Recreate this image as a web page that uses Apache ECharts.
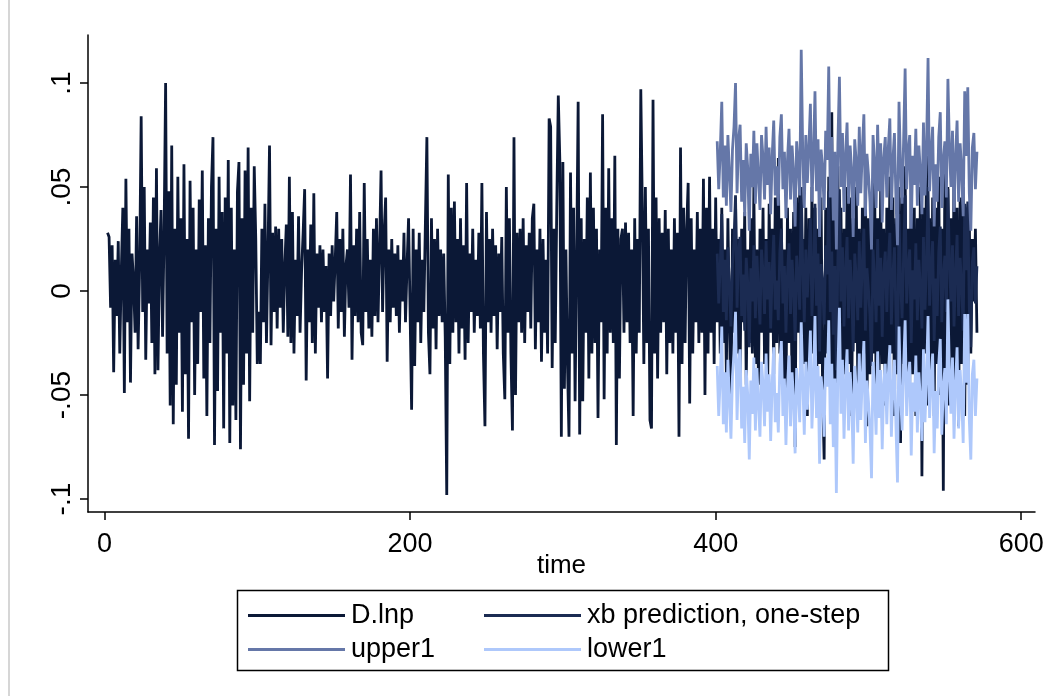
<!DOCTYPE html>
<html>
<head>
<meta charset="utf-8">
<script src="https://cdn.jsdelivr.net/npm/echarts@6/dist/echarts.min.js"></script>
<style>html,body{margin:0;padding:0;background:#fff}#c{width:1053px;height:696px}</style>
</head>
<body>
<div id="c"></div>
<script>
// ---- data ----
const dlnpStart = 2;   // first time index of D.lnp
const dlnp = [
.028,.026,-.008,.022,-.039,.015,-.012,.024,-.030,.010,
.040,-.049,.054,-.015,.030,-.044,.018,.005,-.020,.036,
-.028,.012,.084,-.010,.050,-.033,.020,-.006,.033,-.025,
.045,-.040,.059,-.038,.016,.039,-.022,.028,.100,-.030,
.048,-.055,.070,-.064,.030,-.045,.055,-.020,.035,-.058,
.061,-.040,.025,-.071,.053,-.015,.040,-.050,.020,-.035,
.044,-.010,.058,-.042,.022,-.060,.035,-.025,.050,.074,
-.074,.030,-.048,.055,-.020,.038,-.066,.045,-.030,.063,
-.073,.040,-.055,.020,-.062,.048,.062,-.076,.035,-.045,
.058,-.030,.069,-.053,.040,-.020,.060,.025,-.035,-.010,
-.035,.030,-.015,.042,-.025,.018,.070,-.026,.028,-.010,
.031,-.018,.030,-.008,.025,-.020,.012,.032,-.022,.055,
-.025,.038,-.030,.015,-.012,.036,-.020,.010,.028,.049,
-.043,.020,-.015,.032,-.025,.047,-.030,.018,-.008,.022,
-.015,.020,-.010,.012,-.042,.018,-.012,.022,-.005,.015,
.038,-.018,.025,-.010,.030,-.022,.012,.020,-.008,.056,
-.033,.022,-.012,.030,-.015,.038,-.020,-.026,.052,-.010,
.025,-.018,.015,-.022,.030,-.012,.035,-.015,.020,.058,
-.010,.028,.045,-.034,.020,-.015,.025,-.008,.018,-.012,
.022,-.020,.015,-.005,.028,-.015,.012,.035,-.010,-.057,
.030,-.036,.020,-.015,.028,-.025,.015,-.010,.032,.074,
-.020,-.040,.035,-.018,.025,-.028,.030,-.012,.020,-.015,
.018,-.022,-.098,.056,-.035,.040,-.020,.043,-.015,.025,
-.030,.035,-.018,.022,-.033,.052,-.025,.018,-.010,.030,
-.020,.015,-.012,.028,-.018,.052,-.030,-.065,.038,-.015,
.025,-.020,.030,-.012,.022,-.028,.018,-.010,.026,-.030,
-.052,.050,-.020,.035,-.030,-.067,.074,-.050,.028,-.015,
.030,-.020,.035,-.025,.022,-.010,.028,-.018,.035,.042,
-.028,.020,-.015,.030,-.034,.025,-.020,.015,-.030,.083,
.079,-.037,.030,-.025,.040,.094,.063,-.070,.062,-.047,
.020,-.035,-.070,.057,-.030,.040,-.053,.015,.091,-.069,
.035,-.053,.025,-.020,.045,-.042,.057,-.030,.040,-.025,
.030,-.061,.020,-.015,.085,-.052,.040,-.030,.059,-.020,
.035,-.025,.065,-.074,.030,-.042,.025,.030,-.020,.033,
-.015,.028,-.025,.020,-.060,.035,-.030,.025,-.020,.097,
.040,-.035,.050,-.025,.030,-.062,-.066,.092,-.030,.045,
-.042,.035,-.020,.028,-.015,.039,-.040,.030,-.025,.020,
-.030,.035,-.020,.028,-.070,.069,-.035,.040,-.025,.030,
.052,-.054,.035,-.030,.020,-.015,.038,-.025,.030,-.020,
.054,-.050,.040,-.030,.055,-.020,.030,-.035,.045,-.015,
.025,-.030,.040,-.025,.020,-.040,.035,-.015,-.059,.030,
-.020,.045,-.030,.025,-.040,.030,-.015,.038,-.045,.020,
-.025,.035,-.030,.050,-.035,.020,-.045,.030,-.020,.040,
-.035,.025,-.050,.042,-.020,.030,-.040,.045,-.025,.064,
-.030,.035,-.045,.020,-.055,.040,-.025,.030,-.050,.038,
-.075,.045,-.020,.050,-.040,.025,-.035,.040,-.060,.035,
-.045,.050,-.030,.040,-.055,.030,-.035,.045,-.050,-.081,
.040,-.030,.055,-.040,.086,-.050,.035,-.045,.060,-.030,
.040,-.055,.030,-.040,.050,-.035,.045,-.060,.035,-.025,
.050,-.045,.030,-.050,.040,-.030,.055,-.065,.035,-.040,
.045,-.030,.060,-.050,.035,-.040,.050,-.035,.030,-.055,
.040,-.045,.055,-.030,.045,-.060,.035,-.040,.050,-.073,
.045,-.035,.060,-.050,.030,-.045,.055,-.040,.040,-.060,
.035,-.045,.050,-.089,.040,-.030,.065,-.055,.035,-.050,
.045,-.060,.040,-.035,.055,-.050,.030,-.096,.060,-.045,
.050,-.055,.035,-.040,.060,-.050,.040,-.065,.045,-.035,
.050,-.060,.040,-.045,.035,-.030,.025,-.005,.030,-.020
];
const fcStart = 401;   // first time index of the forecast series
const xb = [
.018,-.006,.012,.037,-.010,.015,-.014,.021,.002,-.017,
.013,.024,.046,-.008,.019,.026,-.012,.008,-.019,.016,
.004,-.027,.011,-.005,.022,-.013,.017,.000,-.016,.020,
.009,-.011,.024,-.004,.014,-.018,.010,.027,-.009,.005,
-.014,.019,.030,-.006,.012,-.020,.008,.023,-.011,.015,
.002,-.024,.017,.006,-.009,.050,.011,-.015,.020,-.003,
.014,.035,-.012,.009,.042,-.007,.018,-.029,.013,.004,
-.016,.022,.008,.048,-.010,.019,-.021,.012,-.038,.016,
.049,-.005,.021,-.017,.010,.026,-.013,.015,.003,-.029,
.018,.007,-.014,.024,-.008,.013,.030,-.019,.011,.001,
-.012,-.036,.020,.006,-.015,.025,-.007,.016,-.022,.009,
.019,-.010,.014,.028,-.016,.008,.021,-.011,-.038,.037,
.005,-.013,.017,.046,-.006,.012,.020,-.025,.010,-.004,
.023,-.014,.015,.002,-.018,.026,-.009,.013,.050,-.007,
.011,.024,-.024,.006,-.012,.019,.031,-.015,.008,.017,
-.010,.049,.014,-.005,.022,-.017,.009,.027,-.012,.016,
.003,-.019,.042,.010,.043,-.008,-.027,.014,.021,-.006,
.012
];
const upper1 = [
.072,.049,.067,.091,.045,.070,.041,.075,.057,.038,
.068,.079,.100,.047,.073,.080,.043,.063,.036,.071,
.059,.029,.066,.050,.077,.042,.071,.055,.039,.075,
.064,.044,.079,.051,.069,.037,.065,.082,.046,.060,
.041,.074,.085,.049,.067,.035,.063,.078,.044,.070,
.057,.031,.072,.061,.046,.116,.066,.040,.075,.052,
.069,.090,.043,.064,.096,.048,.073,.026,.068,.059,
.039,.077,.063,.108,.045,.074,.034,.067,.020,.071,
.103,.050,.076,.038,.065,.081,.042,.070,.058,.026,
.073,.062,.041,.079,.047,.068,.085,.036,.066,.056,
.043,.020,.075,.061,.040,.080,.048,.071,.033,.064,
.074,.045,.069,.083,.039,.063,.076,.044,.022,.091,
.060,.042,.072,.107,.049,.067,.075,.030,.065,.051,
.078,.041,.070,.057,.037,.081,.046,.068,.112,.048,
.066,.079,.031,.061,.043,.074,.086,.040,.063,.072,
.045,.102,.069,.050,.077,.038,.064,.082,.043,.071,
.058,.036,.096,.065,.098,.047,.029,.069,.076,.049,
.067
];
const lower1 = [
-.036,-.060,-.042,-.017,-.064,-.039,-.068,-.033,-.052,-.071,
-.041,-.030,-.010,-.062,-.035,-.028,-.066,-.046,-.073,-.038,
-.050,-.081,-.043,-.059,-.032,-.067,-.037,-.054,-.070,-.034,
-.045,-.065,-.030,-.058,-.040,-.072,-.044,-.027,-.063,-.049,
-.068,-.035,-.024,-.060,-.042,-.074,-.046,-.031,-.065,-.039,
-.052,-.078,-.037,-.048,-.063,-.015,-.043,-.069,-.034,-.057,
-.040,-.019,-.066,-.045,-.012,-.061,-.036,-.083,-.041,-.050,
-.070,-.032,-.046,-.014,-.064,-.035,-.075,-.042,-.097,-.038,
-.008,-.059,-.033,-.071,-.044,-.028,-.067,-.039,-.051,-.083,
-.036,-.047,-.068,-.030,-.062,-.041,-.024,-.073,-.043,-.053,
-.066,-.090,-.034,-.048,-.069,-.029,-.061,-.038,-.076,-.045,
-.035,-.064,-.040,-.026,-.070,-.046,-.033,-.065,-.092,-.017,
-.049,-.067,-.037,-.014,-.060,-.042,-.034,-.079,-.044,-.058,
-.031,-.068,-.039,-.052,-.072,-.028,-.063,-.041,-.012,-.061,
-.043,-.030,-.078,-.048,-.066,-.035,-.023,-.069,-.046,-.037,
-.064,-.004,-.040,-.059,-.032,-.071,-.045,-.027,-.066,-.038,
-.051,-.073,-.011,-.044,-.011,-.062,-.081,-.040,-.033,-.060,
-.042
];
const xTicks = [0, 200, 400, 600];
const yTicks = [-0.1, -0.05, 0, 0.05, 0.1];
const yTickLabels = ['-.1', '-.05', '0', '.05', '.1'];
const seriesNames = ['D.lnp', 'xb prediction, one-step', 'upper1', 'lower1'];
const colors = ['#0b1836', '#1b2b52', '#6577a8', '#aec8fb'];

// ---- chart ----
const pairs = (arr, start) => arr.map((v, i) => [start + i, v]);
const FONT = '"Liberation Sans", Arial, sans-serif';
const chart = echarts.init(document.getElementById('c'), null, {renderer: 'canvas'});

const series = [
  pairs(dlnp, dlnpStart), pairs(xb, fcStart), pairs(upper1, fcStart), pairs(lower1, fcStart)
].map((d, i) => ({
  name: seriesNames[i], type: 'line', data: d, showSymbol: false, symbol: 'none',
  lineStyle: {color: colors[i], width: 2.8, join: 'miter', miterLimit: 2}, itemStyle: {color: colors[i]},
  z: 2 + i, silent: true, animation: false
}));

const legPos = [[248, 602], [484, 602], [248, 636], [484, 636]];
const legends = seriesNames.map((n, i) => ({
  data: [n], left: legPos[i][0], top: legPos[i][1], padding: 0,
  icon: 'rect', itemWidth: 97, itemHeight: 3, itemGap: 0,
  textStyle: {fontFamily: FONT, fontSize: 27, color: '#000', padding: [0, 0, 0, 1]},
  selectedMode: false
}));

chart.setOption({
  animation: false,
  backgroundColor: '#fff',
  grid: {left: 88, right: 18, top: 35, bottom: 184, containLabel: false},
  legend: legends,
  xAxis: {
    type: 'value', min: -10.8, max: 609,
    name: 'time', nameLocation: 'middle', nameGap: 41, nameMoveOverlap: false,
    nameTextStyle: {fontFamily: FONT, fontSize: 26, color: '#000', verticalAlign: 'top', lineHeight: 26},
    axisLine: {show: true, onZero: false, lineStyle: {color: '#000', width: 1.5}},
    axisTick: {show: true, customValues: xTicks, length: 8, lineStyle: {color: '#000', width: 1.5}},
    axisLabel: {customValues: xTicks, fontFamily: FONT, fontSize: 27, color: '#000', margin: 19},
    splitLine: {show: false}
  },
  yAxis: {
    type: 'value', min: -0.1062, max: 0.1231,
    axisLine: {show: true, onZero: false, lineStyle: {color: '#000', width: 1.5}},
    axisTick: {show: true, customValues: yTicks, length: 8, lineStyle: {color: '#000', width: 1.5}},
    axisLabel: {customValues: yTicks, rotate: 90, fontFamily: FONT, fontSize: 28, color: '#000', margin: 12,
      formatter: v => { const k = yTicks.findIndex(t => Math.abs(t - v) < 1e-9); return k >= 0 ? yTickLabels[k] : ''; }},
    splitLine: {show: false}
  },
  graphic: [
    {type: 'rect', shape: {x: 237.5, y: 590.5, width: 651, height: 80}, style: {fill: 'none', stroke: '#000', lineWidth: 1.5}, z: 0},
    {type: 'line', shape: {x1: 9, y1: 0, x2: 9, y2: 696}, style: {stroke: '#c8c8c8', lineWidth: 1.5}}
  ],
  series: series
});
</script>
</body>
</html>
